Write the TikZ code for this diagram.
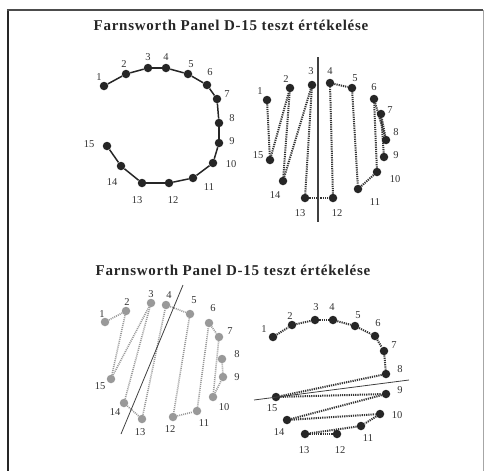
\documentclass[tikz,border=0pt]{standalone}
\usepackage{fontspec}
\setmainfont{Liberation Serif}
\newfontfamily\titlefont[LetterSpace=5]{Liberation Serif}
\usetikzlibrary{backgrounds}

\begin{document}
\begin{tikzpicture}[x=1pt, y=-1pt,
  pt/.style={circle, fill=black!85, inner sep=0pt, minimum size=8.5pt},
  ptgray/.style={circle, fill=black!40, inner sep=0pt, minimum size=8.5pt},
  num/.style={font=\fontsize{10.5}{10.5}\selectfont, text=black!80, inner sep=0pt},
  ttl/.style={font=\fontsize{15}{15}\selectfont\titlefont\bfseries, text=black!85, inner sep=0pt},
  solidline/.style={line width=1.5pt, draw=black!85},
  dotline/.style={line width=2pt, dash pattern=on 1.2pt off 1pt, draw=black!80},
  dotgray/.style={line width=1.6pt, dash pattern=on 1pt off 1pt, draw=black!40},
  axisline/.style={line width=0.8pt, draw=black!75}]
\useasboundingbox (0,0) rectangle (484,471);

% frame
\coordinate (fl1) at (8,10);
\coordinate (fl2) at (8,471);
\coordinate (fr1) at (483,10);
\coordinate (fr2) at (483,471);
\draw[line width=2.5pt, black!85] (fl1) -- (fl2);
\draw[line width=1.8pt, black!70] ([xshift=-1.2pt]fl1) -- (fr1);
\draw[line width=0.8pt, black!35] (fr1) -- (fr2);

% titles
\node[ttl] (t1) at (231,25) {Farnsworth Panel D-15 teszt értékelése};
\node[ttl] (t2) at (233,270) {Farnsworth Panel D-15 teszt értékelése};

% top left: normal order
\foreach \i/\x/\y/\lx/\ly in {1/104/86/99/77, 2/126/74/124/64, 3/148/68/148/57,
    4/166/68/166/57, 5/188/74/191/64, 6/207/85/210/72, 7/217/99/227/94,
    8/219/123/232/118, 9/219/143/232/141, 10/213/163/231/164, 11/193/178/209/187,
    12/169/183/173/200, 13/142/183/137/200, 14/121/166/112/182, 15/107/146/89/144} {
  \node[pt] (a\i) at (\x,\y) {};
  \node[num] (la\i) at (\lx,\ly) {\i};
}
\begin{scope}[on background layer]
\foreach \i [remember=\i as \j (initially 1)] in {2,...,15}
  \draw[solidline] (a\j) -- (a\i);
\end{scope}

% top right: tritan axis
\foreach \i/\x/\y/\lx/\ly in {1/267/100/260/91, 2/290/88/286/79, 3/312/85/311/71,
    4/330/83/330/71, 5/352/88/355/78, 6/374/99/374/87, 7/381/114/390/110,
    8/386/140/396/132, 9/384/157/396/155, 10/377/172/395/179, 11/358/189/375/202,
    12/333/198/337/213, 13/305/198/300/213, 14/283/181/275/195, 15/270/160/258/155} {
  \node[pt] (b\i) at (\x,\y) {};
  \node[num] (lb\i) at (\lx,\ly) {\i};
}
\coordinate (bv1) at (318,57);
\coordinate (bv2) at (318,222);
\draw[line width=2pt, black!75] (bv1) -- (bv2);
\begin{scope}[on background layer]
\foreach \i [remember=\i as \j (initially 1)] in {15,2,14,3,13,12,4,5,11,10,6,8,7,9}
  \draw[dotline] (b\j) -- (b\i);
\end{scope}

% bottom left: protan axis
\foreach \i/\x/\y/\lx/\ly in {1/105/322/102/314, 2/126/311/127/302, 3/151/303/151/294,
    4/166/305/169/295, 5/190/314/194/300, 6/209/323/213/308, 7/219/337/230/331,
    8/222/359/237/354, 9/223/377/237/377, 10/213/397/224/407, 11/197/411/204/423,
    12/173/417/170/429, 13/142/419/140/432, 14/124/403/115/412, 15/111/379/100/386} {
  \node[ptgray] (c\i) at (\x,\y) {};
  \node[num] (lc\i) at (\lx,\ly) {\i};
}
\coordinate (cv1) at (183,285);
\coordinate (cv2) at (121,434);
\draw[axisline] (cv1) -- (cv2);
\begin{scope}[on background layer]
\foreach \i [remember=\i as \j (initially 1)] in {2,15,3,14,13,4,5,12,11,6,7,10,9,8}
  \draw[dotgray] (c\j) -- (c\i);
\end{scope}

% bottom right: deutan-like axis
\foreach \i/\x/\y/\lx/\ly in {1/273/337/264/329, 2/292/325/290/316, 3/315/320/316/307,
    4/333/320/332/307, 5/355/326/358/315, 6/375/336/378/323, 7/384/351/394/345,
    8/386/374/400/369, 9/386/394/400/390, 10/380/414/397/415, 11/361/426/368/438,
    12/337/434/340/450, 13/305/434/304/450, 14/287/420/279/432, 15/276/397/272/408} {
  \node[pt] (d\i) at (\x,\y) {};
  \node[num] (ld\i) at (\lx,\ly) {\i};
}
\coordinate (dv1) at (254,400);
\coordinate (dv2) at (409,380);
\draw[axisline] (dv1) -- (dv2);
\begin{scope}[on background layer]
\foreach \i [remember=\i as \j (initially 1)] in {2,3,4,5,6,7,8,15,9,14,10,11,13,12}
  \draw[dotline] (d\j) -- (d\i);
\end{scope}
\end{tikzpicture}
\end{document}
